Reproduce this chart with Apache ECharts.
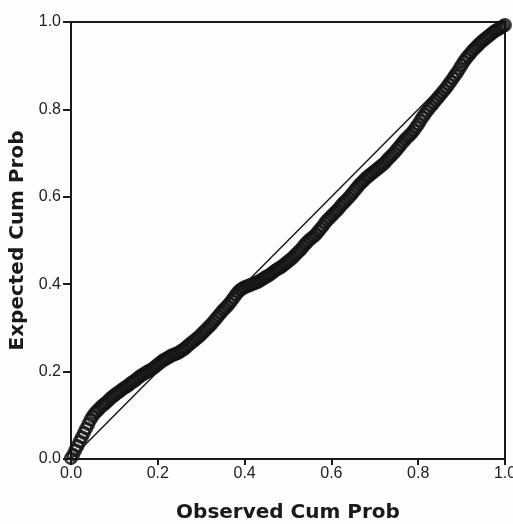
<!DOCTYPE html>
<html>
<head>
<meta charset="utf-8">
<script src="https://cdn.jsdelivr.net/npm/echarts@6/dist/echarts.min.js"></script>
<style>
  html, body { margin: 0; padding: 0; background: #fdfdfd; }
  #chart { width: 513px; height: 524px; }
</style>
</head>
<body>
<div id="chart"></div>
<script>
// P-P plot: observed vs expected cumulative probability
const obsCum = [
  0.000, 0.005, 0.010, 0.015, 0.020, 0.025, 0.030, 0.035, 0.040, 0.045,
  0.050, 0.055, 0.060, 0.065, 0.070, 0.075, 0.080, 0.085, 0.090, 0.095,
  0.100, 0.105, 0.110, 0.115, 0.120, 0.125, 0.130, 0.135, 0.140, 0.145,
  0.150, 0.155, 0.160, 0.165, 0.170, 0.175, 0.180, 0.185, 0.190, 0.195,
  0.200, 0.205, 0.210, 0.215, 0.220, 0.225, 0.230, 0.235, 0.240, 0.245,
  0.250, 0.255, 0.260, 0.265, 0.270, 0.275, 0.280, 0.285, 0.290, 0.295,
  0.300, 0.305, 0.310, 0.315, 0.320, 0.325, 0.330, 0.335, 0.340, 0.345,
  0.350, 0.355, 0.360, 0.365, 0.370, 0.375, 0.380, 0.385, 0.390, 0.395,
  0.400, 0.405, 0.410, 0.415, 0.420, 0.425, 0.430, 0.435, 0.440, 0.445,
  0.450, 0.455, 0.460, 0.465, 0.470, 0.475, 0.480, 0.485, 0.490, 0.495,
  0.500, 0.505, 0.510, 0.515, 0.520, 0.525, 0.530, 0.535, 0.540, 0.545,
  0.550, 0.555, 0.560, 0.565, 0.570, 0.575, 0.580, 0.585, 0.590, 0.595,
  0.600, 0.605, 0.610, 0.615, 0.620, 0.625, 0.630, 0.635, 0.640, 0.645,
  0.650, 0.655, 0.660, 0.665, 0.670, 0.675, 0.680, 0.685, 0.690, 0.695,
  0.700, 0.705, 0.710, 0.715, 0.720, 0.725, 0.730, 0.735, 0.740, 0.745,
  0.750, 0.755, 0.760, 0.765, 0.770, 0.775, 0.780, 0.785, 0.790, 0.795,
  0.800, 0.805, 0.810, 0.815, 0.820, 0.825, 0.830, 0.835, 0.840, 0.845,
  0.850, 0.855, 0.860, 0.865, 0.870, 0.875, 0.880, 0.885, 0.890, 0.895,
  0.900, 0.905, 0.910, 0.915, 0.920, 0.925, 0.930, 0.935, 0.940, 0.945,
  0.950, 0.955, 0.960, 0.965, 0.970, 0.975, 0.980, 0.985, 0.990, 0.995,
  1.000
];
const expCum = [
  0.002, 0.010, 0.020, 0.030, 0.040, 0.050, 0.060, 0.070, 0.080, 0.090,
  0.098, 0.105, 0.110, 0.115, 0.120, 0.124, 0.128, 0.133, 0.138, 0.142,
  0.146, 0.150, 0.153, 0.157, 0.161, 0.164, 0.167, 0.171, 0.175, 0.178,
  0.182, 0.186, 0.190, 0.193, 0.196, 0.199, 0.202, 0.205, 0.208, 0.212,
  0.216, 0.220, 0.224, 0.227, 0.230, 0.233, 0.236, 0.238, 0.240, 0.242,
  0.245, 0.248, 0.251, 0.255, 0.260, 0.264, 0.268, 0.272, 0.276, 0.280,
  0.285, 0.290, 0.295, 0.300, 0.305, 0.310, 0.316, 0.322, 0.328, 0.334,
  0.340, 0.345, 0.350, 0.356, 0.362, 0.369, 0.376, 0.382, 0.387, 0.390,
  0.393, 0.395, 0.397, 0.399, 0.401, 0.403, 0.405, 0.408, 0.411, 0.414,
  0.417, 0.420, 0.423, 0.427, 0.431, 0.434, 0.437, 0.440, 0.444, 0.448,
  0.452, 0.456, 0.460, 0.465, 0.470, 0.475, 0.480, 0.486, 0.492, 0.497,
  0.502, 0.506, 0.510, 0.515, 0.521, 0.527, 0.533, 0.540, 0.546, 0.551,
  0.556, 0.561, 0.566, 0.571, 0.577, 0.583, 0.588, 0.593, 0.598, 0.604,
  0.610, 0.616, 0.622, 0.628, 0.633, 0.638, 0.643, 0.647, 0.651, 0.655,
  0.659, 0.663, 0.667, 0.671, 0.675, 0.680, 0.686, 0.691, 0.696, 0.701,
  0.707, 0.713, 0.719, 0.725, 0.731, 0.736, 0.741, 0.746, 0.752, 0.759,
  0.766, 0.774, 0.782, 0.789, 0.796, 0.802, 0.808, 0.814, 0.820, 0.826,
  0.832, 0.838, 0.844, 0.850, 0.857, 0.864, 0.871, 0.878, 0.885, 0.893,
  0.901, 0.909, 0.916, 0.922, 0.928, 0.934, 0.939, 0.944, 0.949, 0.954,
  0.958, 0.962, 0.966, 0.970, 0.974, 0.978, 0.981, 0.984, 0.987, 0.990,
  0.993
];
// reference diagonal
const diagX = [0, 1];
const diagY = [0, 1];

const INK = '#1a1a1a';

const chart = echarts.init(document.getElementById('chart'));

const axisCommon = {
  type: 'value',
  min: 0,
  max: 1,
  interval: 0.2,
  splitLine: { show: false },
  axisLine: { show: true, lineStyle: { color: INK, width: 2 } },
  nameLocation: 'middle',
  nameTextStyle: {
    fontFamily: 'DejaVu Sans',
    fontWeight: 'bold',
    fontSize: 20,
    color: INK
  }
};

const labelStyle = {
  fontFamily: 'Liberation Sans',
  fontSize: 16,
  color: '#222',
  formatter: (v) => v.toFixed(1)
};

chart.setOption({
  animation: false,
  backgroundColor: '#fdfdfd',
  grid: {
    left: 71, right: 8, top: 22, bottom: 65,
    outerBoundsMode: 'none',
    containLabel: false,
    show: true, borderColor: INK, borderWidth: 2
  },
  xAxis: Object.assign({}, axisCommon, {
    name: 'Observed Cum Prob',
    nameGap: 44,
    axisTick: { show: true, length: 6, lineStyle: { color: INK, width: 2 } },
    axisLabel: Object.assign({ margin: 7 }, labelStyle)
  }),
  yAxis: Object.assign({}, axisCommon, {
    name: 'Expected Cum Prob',
    nameGap: 31,
    axisTick: { show: true, length: 8, lineStyle: { color: INK, width: 2 } },
    axisLabel: Object.assign({ margin: 10 }, labelStyle)
  }),
  series: [
    {
      type: 'line',
      data: diagX.map((x, i) => [x, diagY[i]]),
      symbol: 'none',
      lineStyle: { color: INK, width: 1.5 },
      z: 3
    },
    {
      type: 'scatter',
      data: obsCum.map((x, i) => [x, expCum[i]]),
      symbol: 'circle',
      symbolSize: 11,
      itemStyle: { color: 'rgba(0,0,0,0)', borderColor: '#111', borderWidth: 3 },
      z: 2
    }
  ]
});
</script>
</body>
</html>
